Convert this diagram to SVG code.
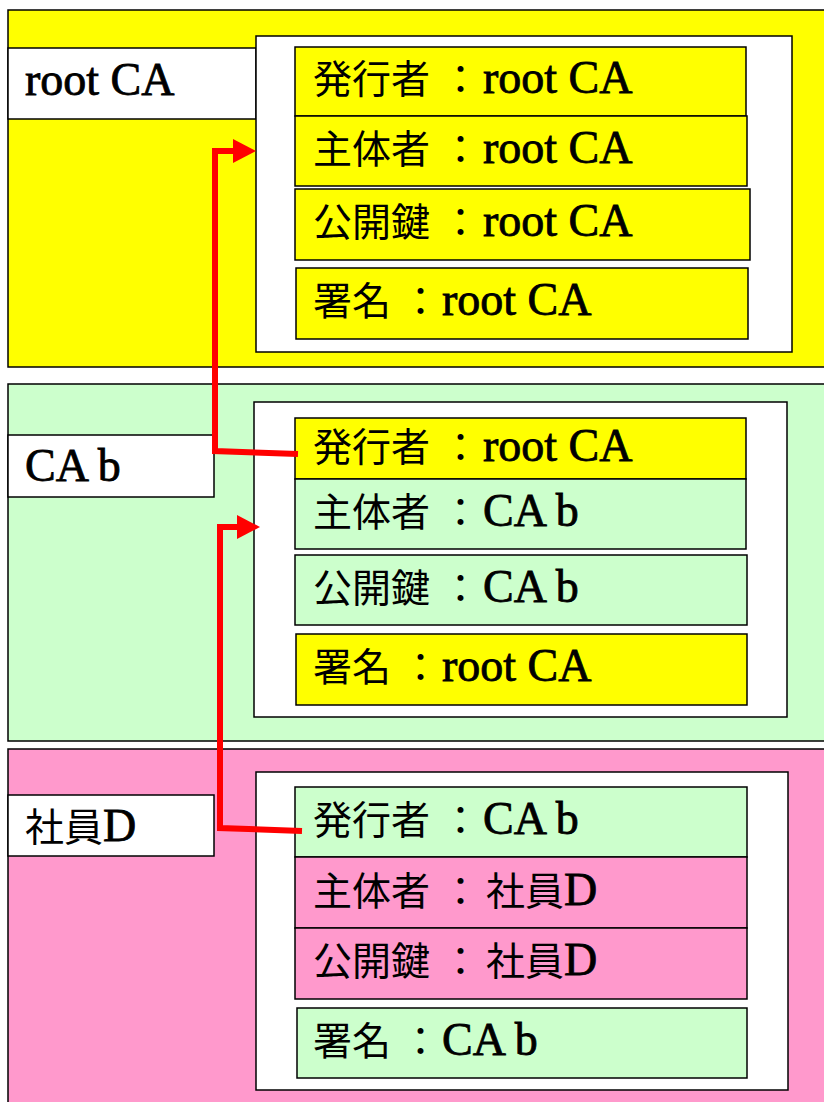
<svg xmlns="http://www.w3.org/2000/svg" width="824" height="1102" viewBox="0 0 824 1102">
<defs>
<style>
.panel{stroke:#000;stroke-width:1.5}
.box{fill:#fff;stroke:#000;stroke-width:1.5}
.fld{stroke:#000;stroke-width:1.5}
.y{fill:#FFFF00}.g{fill:#CCFFCC}.p{fill:#FF99CC}
text{font-family:"Liberation Serif","Noto Sans CJK JP",serif;font-size:39px;fill:#000}
.l{font-size:46px;stroke:#000;stroke-width:0.8}
.arrow{fill:none;stroke:#FF0000;stroke-width:6;marker-end:url(#ah)}
</style>
<marker id="ah" markerUnits="userSpaceOnUse" markerWidth="24" markerHeight="26" refX="7" refY="12" orient="auto">
<path d="M0,0 L23,12 L0,24 z" fill="#FF0000"/>
</marker>
</defs>
<rect width="824" height="1102" fill="#fff"/>

<g id="rootCA">
<rect class="panel y" x="8" y="10" width="830" height="357"/>
<rect class="box" x="8" y="48" width="248" height="71"/>
<text x="25" y="95"><tspan class="l">root CA</tspan></text>
<rect class="box" x="256" y="36" width="536" height="316"/>
<rect class="fld y" x="295" y="47" width="451" height="69"/>
<text x="313" y="93">発行者<tspan x="441">：</tspan><tspan class="l" x="483">root CA</tspan></text>
<rect class="fld y" x="295" y="116" width="452" height="70"/>
<text x="313" y="163">主体者<tspan x="441">：</tspan><tspan class="l" x="483">root CA</tspan></text>
<rect class="fld y" x="295" y="189" width="455" height="71"/>
<text x="313" y="236">公開鍵<tspan x="441">：</tspan><tspan class="l" x="483">root CA</tspan></text>
<rect class="fld y" x="296" y="268" width="452" height="71"/>
<text x="313" y="315">署名<tspan x="401">：</tspan><tspan class="l" x="442">root CA</tspan></text>
</g>

<g id="CAb">
<rect class="panel g" x="8" y="384" width="830" height="357"/>
<rect class="box" x="8" y="435" width="206" height="62"/>
<text x="25" y="481"><tspan class="l">CA b</tspan></text>
<rect class="box" x="254" y="402" width="533" height="315"/>
<rect class="fld y" x="295" y="418" width="451" height="61"/>
<text x="313" y="461">発行者<tspan x="441">：</tspan><tspan class="l" x="483">root CA</tspan></text>
<rect class="fld g" x="295" y="479" width="451" height="70"/>
<text x="313" y="526">主体者<tspan x="441">：</tspan><tspan class="l" x="483">CA b</tspan></text>
<rect class="fld g" x="295" y="555" width="452" height="70"/>
<text x="313" y="602">公開鍵<tspan x="441">：</tspan><tspan class="l" x="483">CA b</tspan></text>
<rect class="fld y" x="296" y="634" width="451" height="71"/>
<text x="313" y="681">署名<tspan x="401">：</tspan><tspan class="l" x="442">root CA</tspan></text>
</g>

<g id="employeeD">
<rect class="panel p" x="8" y="749" width="830" height="360"/>
<rect class="box" x="8" y="795" width="206" height="61"/>
<text x="25" y="841">社員<tspan class="l">D</tspan></text>
<rect class="box" x="256" y="772" width="532" height="318"/>
<rect class="fld g" x="295" y="787" width="452" height="70"/>
<text x="313" y="834">発行者<tspan x="441">：</tspan><tspan class="l" x="483">CA b</tspan></text>
<rect class="fld p" x="295" y="857" width="452" height="71"/>
<text x="313" y="905">主体者<tspan x="441">：</tspan><tspan x="486">社員</tspan><tspan class="l">D</tspan></text>
<rect class="fld p" x="295" y="928" width="452" height="71"/>
<text x="313" y="975">公開鍵<tspan x="441">：</tspan><tspan x="486">社員</tspan><tspan class="l">D</tspan></text>
<rect class="fld g" x="297" y="1008" width="450" height="70"/>
<text x="313" y="1055">署名<tspan x="401">：</tspan><tspan class="l" x="442">CA b</tspan></text>
</g>

<g id="connectors">
<path class="arrow" d="M298,454 L215,451 L215,151 L240,151"/>
<path class="arrow" d="M302,831 L220,828 L220,527 L244,527"/>
</g>
</svg>
